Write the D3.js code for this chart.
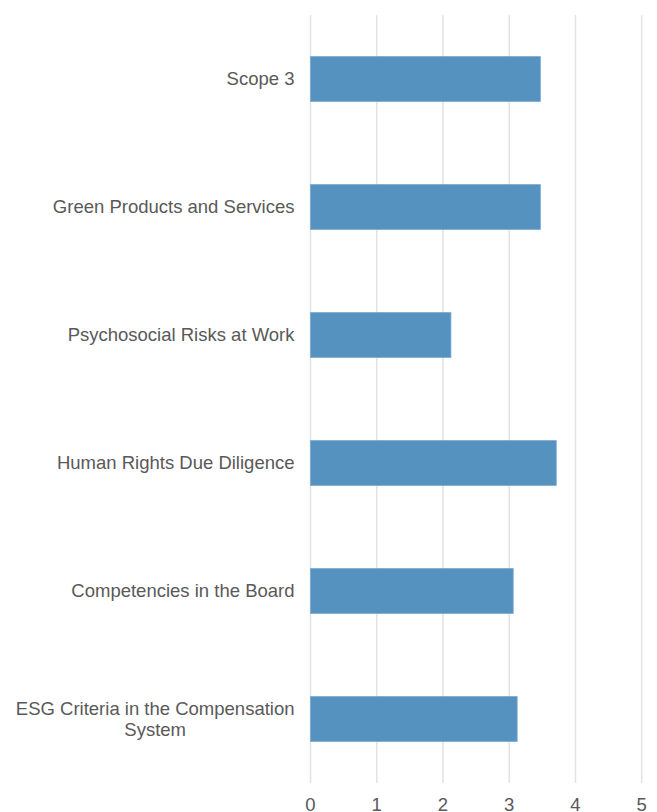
<!DOCTYPE html>
<html>
<head>
<meta charset="utf-8">
<script src="https://cdn.jsdelivr.net/npm/d3@7"></script>
<style>
  body { margin: 0; background: #fff; }
  text { font-family: "Liberation Sans", Arial, sans-serif; }
</style>
</head>
<body>
<div id="chart"></div>
<script>
var categories = [
  "Scope 3",
  "Green Products and Services",
  "Psychosocial Risks at Work",
  "Human Rights Due Diligence",
  "Competencies in the Board",
  "ESG Criteria in the Compensation System"
];
var values = [3.47, 3.47, 2.12, 3.71, 3.06, 3.12];
var tickValues = [0, 1, 2, 3, 4, 5];

var width = 657, height = 812;
var plotLeft = 310.5, plotRight = 641.7, plotTop = 15, plotBottom = 783;
var fontSize = "18.5px";

var svg = d3.select("#chart").append("svg")
            .attr("width", width)
            .attr("height", height);

var x = d3.scaleLinear().domain([0, 5]).range([plotLeft, plotRight]);
var y = d3.scaleBand().domain(categories).range([plotTop, plotBottom]).paddingInner(0.65).paddingOuter(0.325);

// gridlines
svg.selectAll(".grid")
   .data(tickValues)
   .enter()
   .append("line")
   .attr("class", "grid")
   .attr("x1", d => x(d))
   .attr("x2", d => x(d))
   .attr("y1", plotTop)
   .attr("y2", plotBottom)
   .style("stroke", "#e3e3e3")
   .style("stroke-width", 1.5);

// tick labels
svg.selectAll(".tick-label")
   .data(tickValues)
   .enter()
   .append("text")
   .attr("class", "tick-label")
   .attr("x", d => x(d))
   .attr("y", 811.3)
   .attr("text-anchor", "middle")
   .style("font-size", fontSize)
   .style("fill", "#595959")
   .text(d => d);

// bars
svg.selectAll(".bar")
   .data(categories)
   .enter()
   .append("rect")
   .attr("class", "bar")
   .attr("x", x(0))
   .attr("y", d => y(d))
   .attr("width", (d, i) => x(values[i]) - x(0))
   .attr("height", y.bandwidth())
   .style("fill", "#5592c0")
   .style("stroke", "#79a9d1")
   .style("stroke-width", 0.8);

// category labels, wrapped when too long
var labelRight = 294.5;
var maxLabel = 290;
categories.forEach(function(cat) {
    var cy = y(cat) + y.bandwidth() / 2;
    var g = svg.append("g");
    var probe = g.append("text").style("font-size", fontSize).text(cat);
    var lines = [cat];
    if (probe.node().getComputedTextLength() > maxLabel) {
        var words = cat.split(" ");
        lines = [];
        var cur = [];
        words.forEach(function(w) {
            probe.text(cur.concat([w]).join(" "));
            if (cur.length && probe.node().getComputedTextLength() > maxLabel) {
                lines.push(cur.join(" "));
                cur = [w];
            } else {
                cur.push(w);
            }
        });
        lines.push(cur.join(" "));
    }
    var widest = 0;
    lines.forEach(function(l) {
        probe.text(l);
        widest = Math.max(widest, probe.node().getComputedTextLength());
    });
    probe.remove();
    var lineH = 21;
    var cx = labelRight - widest / 2;
    var first = cy - (lines.length - 1) * lineH / 2;
    lines.forEach(function(l, i) {
        g.append("text")
         .attr("x", lines.length > 1 ? cx : labelRight)
         .attr("y", first + i * lineH)
         .attr("dy", ".35em")
         .attr("text-anchor", lines.length > 1 ? "middle" : "end")
         .style("font-size", fontSize)
         .style("fill", "#595959")
         .text(l);
    });
});
</script>
</body>
</html>
